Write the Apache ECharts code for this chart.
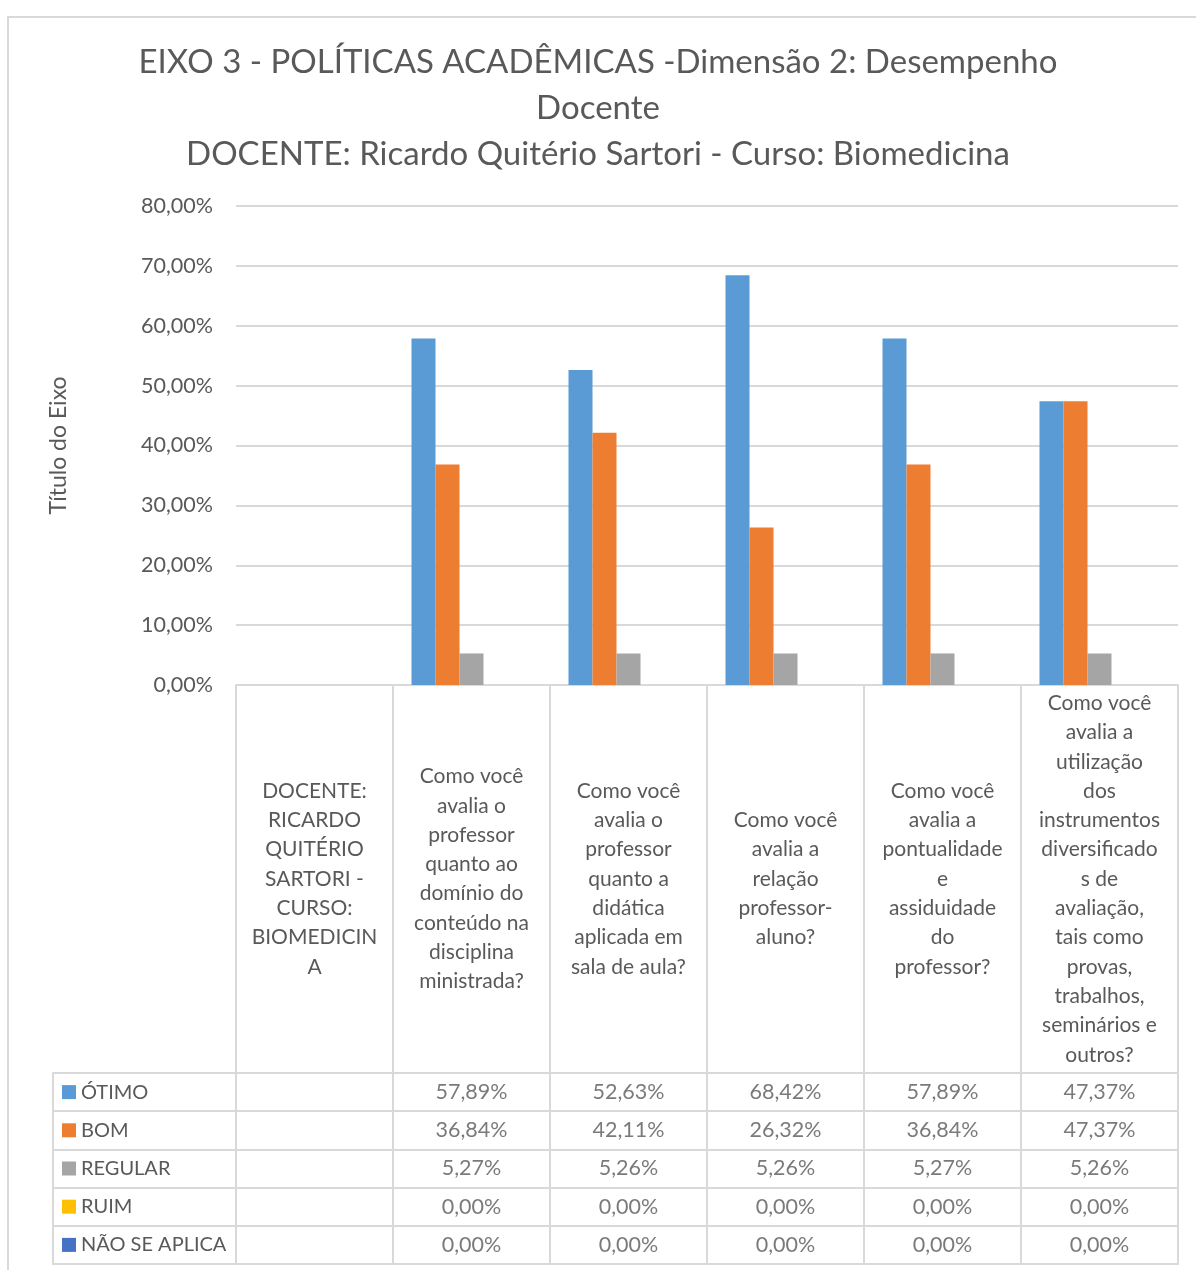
<!DOCTYPE html>
<html>
<head>
<meta charset="utf-8">
<script src="https://cdn.jsdelivr.net/npm/echarts@6/dist/echarts.min.js"></script>
<style>
  html, body { margin: 0; padding: 0; background: #fff; }
  #chart { width: 1196px; height: 1270px; }
</style>
</head>
<body>
<div id="chart"></div>
<script>
// perguntas (eixo x / cabeçalho da tabela), quebradas como no Excel
var categories = [
  'DOCENTE:\nRICARDO\nQUITÉRIO\nSARTORI -\nCURSO:\nBIOMEDICIN\nA',
  'Como você\navalia o\nprofessor\nquanto ao\ndomínio do\nconteúdo na\ndisciplina\nministrada?',
  'Como você\navalia o\nprofessor\nquanto a\ndidática\naplicada em\nsala de aula?',
  'Como você\navalia a\nrelação\nprofessor-\naluno?',
  'Como você\navalia a\npontualidade\ne\nassiduidade\ndo\nprofessor?',
  'Como você\navalia a\nutilização\ndos\ninstrumentos\ndiversificado\ns de\navaliação,\ntais como\nprovas,\ntrabalhos,\nseminários e\noutros?'
];
var seriesNames = ['ÓTIMO', 'BOM', 'REGULAR', 'RUIM', 'NÃO SE APLICA'];
var seriesColors = ['#5b9bd5', '#ed7d31', '#a5a5a5', '#ffc000', '#4472c4'];
// valores em %
var otimo = [null, 57.89, 52.63, 68.42, 57.89, 47.37];
var bom = [null, 36.84, 42.11, 26.32, 36.84, 47.37];
var regular = [null, 5.27, 5.26, 5.26, 5.27, 5.26];
var ruim = [null, 0, 0, 0, 0, 0];
var naoSeAplica = [null, 0, 0, 0, 0, 0];

var allSeries = [otimo, bom, regular, ruim, naoSeAplica];
var FONT = 'Lato, "Open Sans", sans-serif';
var TXT = '#595959';
var LINE = '#d9d9d9';

function pct(v) {
  return v.toFixed(2).replace('.', ',') + '%';
}

// barras
var series = [];
allSeries.forEach(function (arr, i) {
  series.push({
    name: seriesNames[i],
    type: 'bar',
    xAxisIndex: 0,
    yAxisIndex: 0,
    data: arr,
    barWidth: 24,
    barGap: '0%',
    itemStyle: { color: seriesColors[i] }
  });
});

// tabela de dados
var tableData = [];
allSeries.forEach(function (arr, r) {
  arr.forEach(function (v, c) {
    if (v !== null) tableData.push([c, r, v]);
  });
});
series.push({
  type: 'scatter',
  xAxisIndex: 1,
  yAxisIndex: 1,
  symbolSize: 1,
  itemStyle: { color: 'rgba(0,0,0,0)' },
  silent: true,
  data: tableData,
  label: {
    show: true,
    position: 'inside',
    color: TXT,
    fontSize: 21.5,
    fontFamily: FONT,
    formatter: function (p) { return pct(p.value[2]); }
  }
});

var rich = { n: { color: TXT, fontSize: 20, fontFamily: FONT, padding: [0, 0, 0, 5] } };
seriesColors.forEach(function (c, i) {
  rich['k' + i] = { width: 14, height: 14, backgroundColor: c };
});

var option = {
  animation: false,
  backgroundColor: '#fff',
  title: {
    text: 'EIXO 3 - POLÍTICAS ACADÊMICAS -Dimensão 2: Desempenho\nDocente\nDOCENTE: Ricardo Quitério Sartori - Curso: Biomedicina',
    left: 'center',
    top: 34,
    textStyle: { color: TXT, fontSize: 33, fontWeight: 'normal', fontFamily: FONT, lineHeight: 46 }
  },
  graphic: [{
    type: 'rect',
    shape: { x: 8, y: 17, width: 1200, height: 1300 },
    style: { fill: 'none', stroke: LINE, lineWidth: 2 },
    silent: true
  }],
  grid: [
    { left: 236, top: 206, width: 942, height: 479 },
    { left: 236, top: 1073, width: 942, height: 191, show: true, borderColor: LINE, borderWidth: 2 }
  ],
  xAxis: [{
    type: 'category',
    gridIndex: 0,
    data: categories,
    axisLine: { lineStyle: { color: LINE, width: 2 } },
    axisTick: { show: true, length: 388, lineStyle: { color: LINE, width: 2 } },
    axisLabel: {
      interval: 0,
      margin: 194,
      verticalAlign: 'middle',
      color: TXT,
      fontSize: 21,
      lineHeight: 29.3,
      fontFamily: FONT
    }
  }, {
    type: 'category',
    gridIndex: 1,
    data: categories,
    axisLine: { show: false },
    axisTick: { show: false },
    axisLabel: { show: false },
    splitLine: { show: true, lineStyle: { color: LINE, width: 2 } }
  }],
  yAxis: [{
    type: 'value',
    gridIndex: 0,
    min: 0,
    max: 80,
    interval: 10,
    name: 'Título do Eixo',
    nameLocation: 'middle',
    nameGap: 166,
    nameRotate: 90,
    nameTextStyle: { color: TXT, fontSize: 23, fontFamily: FONT },
    axisLine: { show: false },
    axisTick: { show: false },
    splitLine: { lineStyle: { color: LINE, width: 2 } },
    axisLabel: {
      margin: 23,
      color: TXT,
      fontSize: 21.5,
      fontFamily: FONT,
      formatter: function (v) { return pct(v); }
    }
  }, {
    type: 'category',
    gridIndex: 1,
    inverse: true,
    data: seriesNames,
    axisLine: { show: true, lineStyle: { color: LINE, width: 2 } },
    axisTick: { show: true, length: 183, lineStyle: { color: LINE, width: 2 } },
    splitLine: { show: true, lineStyle: { color: LINE, width: 2 } },
    axisLabel: {
      margin: 174,
      align: 'left',
      formatter: function (v, i) { return '{k' + i + '|}{n|' + v + '}'; },
      rich: rich
    }
  }, {
    type: 'category',
    gridIndex: 1,
    position: 'left',
    offset: 183,
    inverse: true,
    data: seriesNames,
    axisLine: { show: true, lineStyle: { color: LINE, width: 2 } },
    axisTick: { show: false },
    axisLabel: { show: false }
  }],
  series: series
};

var chart = echarts.init(document.getElementById('chart'));
chart.setOption(option);
</script>
</body>
</html>
